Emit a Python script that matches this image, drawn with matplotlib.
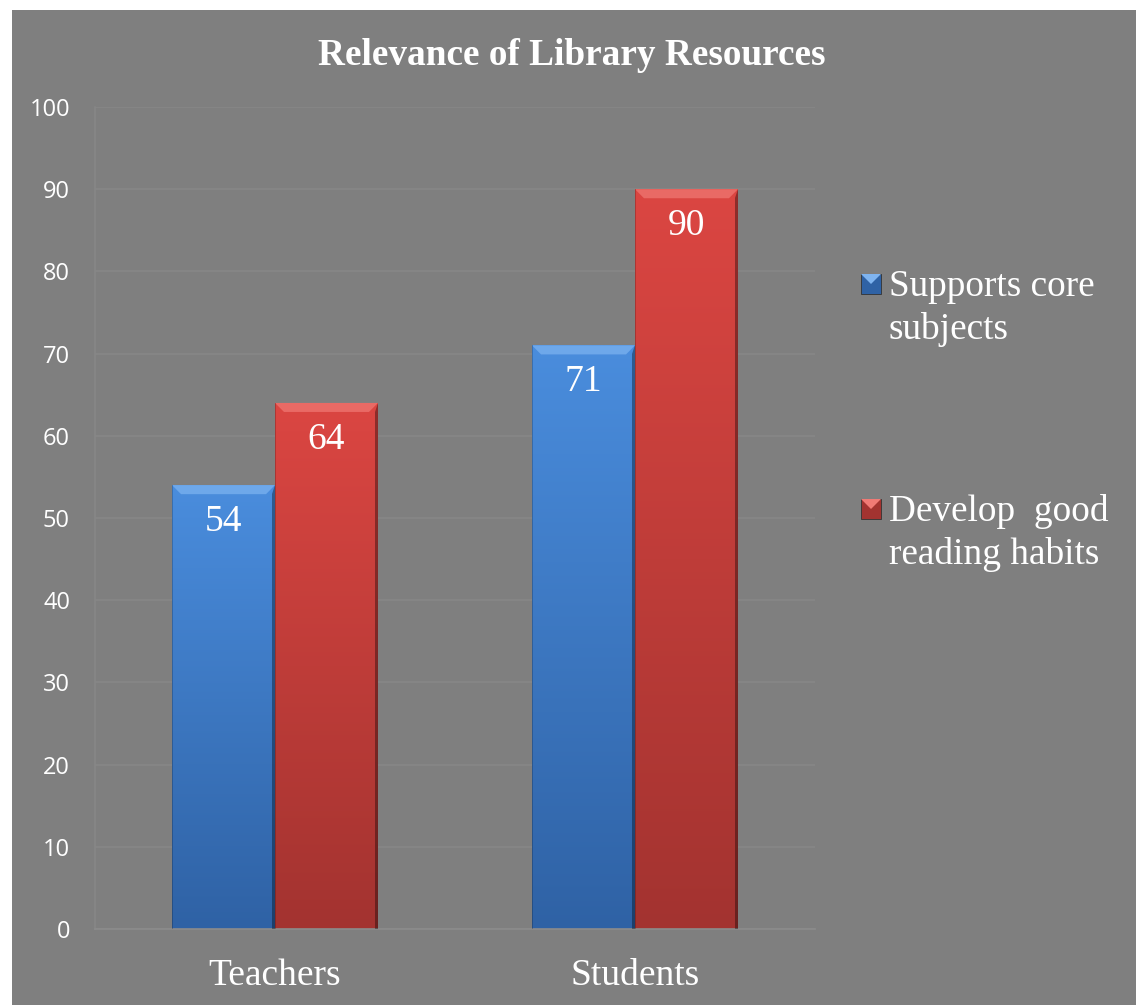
import numpy as np
import matplotlib
matplotlib.use('Agg')
import matplotlib.pyplot as plt
from matplotlib.patches import Rectangle, Polygon
from matplotlib.colors import LinearSegmentedColormap

groups = ['Teachers', 'Students']
series_names = ['Supports core\nsubjects', 'Develop  good\nreading habits']
core_subjects = [54, 71]
reading_habits = [64, 90]
yticks = [0, 10, 20, 30, 40, 50, 60, 70, 80, 90, 100]

BG = '#7f7f7f'
GRID = '#878787'
SERIF = 'Liberation Serif'
SANS = 'Open Sans'

# top colour, bottom colour, bevel highlight
blue = ('#4a8ddd', '#2f62a5', '#7fb4f0')
red = ('#db4642', '#a33330', '#f07a75')

fig = plt.figure(figsize=(11.36, 10.05), dpi=100)
fig.patch.set_facecolor('white')
fig.patches.append(Rectangle((12 / 1136, 0.0), 1.0, 1 - 10 / 1005,
                             transform=fig.transFigure, facecolor=BG,
                             edgecolor='none', zorder=-10))

ax = fig.add_axes([95 / 1136, 1 - 929 / 1005, 720 / 1136, 822 / 1005])
ax.set_zorder(1)
ax.set_facecolor(BG)
ax.patch.set_alpha(0)

x = np.arange(len(groups))
w = 0.286


def gradient_bar(ax, xc, h, cols):
    top, bottom, light = cols
    cmap = LinearSegmentedColormap.from_list('g', [bottom, top])
    grad = np.linspace(0, 1, 256).reshape(-1, 1)
    x0, x1 = xc - w / 2, xc + w / 2
    bar = ax.bar(xc, h, width=w, color='none', edgecolor='none', zorder=2)[0]
    im = ax.imshow(grad, cmap=cmap, origin='lower', aspect='auto',
                   extent=(x0, x1, 0, h), zorder=2)
    im.set_clip_path(bar)
    # bevel: light strip on the top, dark shading on the sides
    bh, bw = 1.1, 0.025
    ax.add_patch(Polygon([(x0, h), (x1, h), (x1 - bw, h - bh), (x0 + bw, h - bh)],
                         closed=True, facecolor=light, edgecolor='none',
                         alpha=0.7, zorder=3))
    ax.add_patch(Polygon([(x1, h), (x1, 0), (x1 - 0.008, 0), (x1 - 0.008, h - bh)],
                         closed=True, facecolor='black', edgecolor='none',
                         alpha=0.35, zorder=3))
    ax.add_patch(Polygon([(x0, h), (x0, 0), (x0 + 0.004, 0), (x0 + 0.004, h)],
                         closed=True, facecolor='black', edgecolor='none',
                         alpha=0.2, zorder=3))
    ax.annotate(str(h), (xc, h), xytext=(0, -33), textcoords='offset points',
                ha='center', va='baseline', color='white', fontsize=27,
                family=SERIF, zorder=4)


for i in range(len(groups)):
    gradient_bar(ax, x[i] - w / 2, core_subjects[i], blue)
    gradient_bar(ax, x[i] + w / 2, reading_habits[i], red)

ax.set_xlim(-0.5, 1.5)
ax.set_ylim(0, 100)
ax.set_yticks(yticks)
ax.set_yticklabels([str(t) for t in yticks], color='white', fontsize=17,
                   family=SANS)
ax.set_xticks(x)
ax.set_xticklabels(groups, color='white', fontsize=27, family=SERIF)
ax.tick_params(axis='y', length=0, pad=18)
ax.tick_params(axis='x', length=0, pad=21)
ax.yaxis.grid(True, color=GRID, linewidth=1.1, zorder=1)
ax.set_axisbelow(True)
for side in ['top', 'right']:
    ax.spines[side].set_visible(False)
ax.spines['left'].set_color(GRID)
ax.spines['bottom'].set_color('#8c8c8c')
ax.spines['left'].set_linewidth(1.1)
ax.spines['bottom'].set_linewidth(1.2)

fig.text(572 / 1136, 1 - 65 / 1005, 'Relevance of Library Resources',
         ha='center', va='baseline', color='white', fontsize=26.8,
         fontweight='bold', family=SERIF)

# legend drawn by hand, two-line entries (marker sits on the first line)
legend_y = [294, 519]
for name, cols, ly in zip(series_names, [blue, red], legend_y):
    top, bottom, light = cols
    fig.patches.append(Rectangle((861 / 1136, 1 - ly / 1005), 20 / 1136, 20 / 1005,
                                 transform=fig.transFigure, facecolor=bottom,
                                 edgecolor='#333333', linewidth=0.6, zorder=3))
    fig.patches.append(Polygon([(861 / 1136, 1 - (ly - 20) / 1005),
                                (881 / 1136, 1 - (ly - 20) / 1005),
                                (871 / 1136, 1 - (ly - 10) / 1005)],
                               transform=fig.transFigure, facecolor=light,
                               edgecolor='none', zorder=4))
    fig.text(889 / 1136, 1 - (ly + 45) / 1005, name, ha='left', va='baseline',
             color='white', fontsize=26.8, family=SERIF, linespacing=1.3)

fig.savefig('out.png', dpi=100, facecolor=fig.get_facecolor())
